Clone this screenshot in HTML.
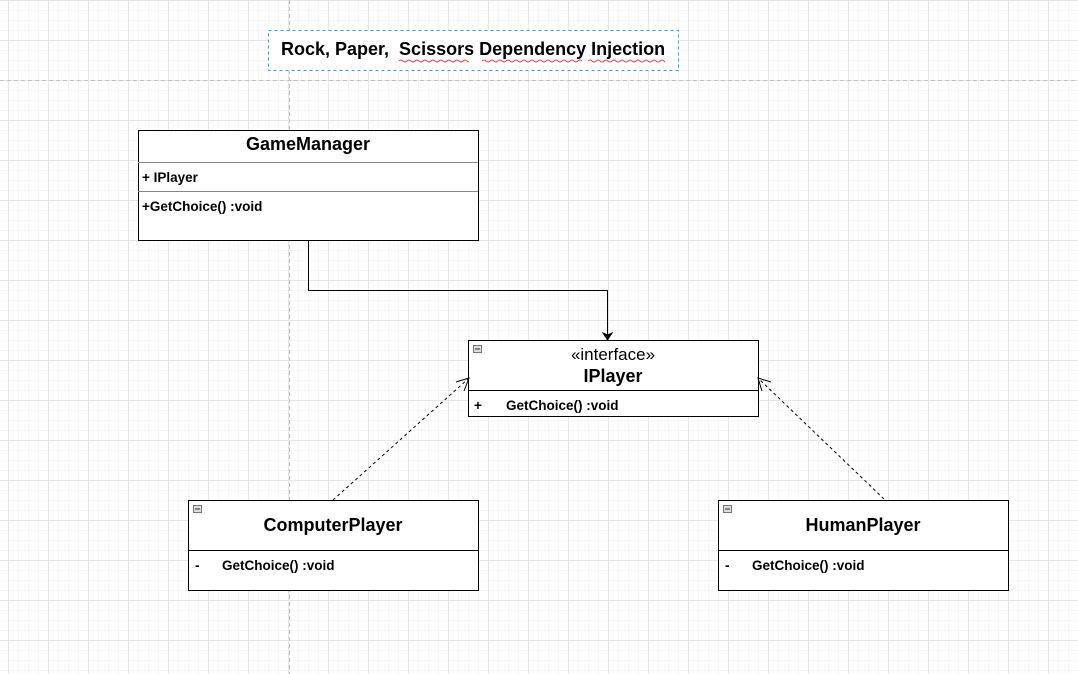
<!DOCTYPE html>
<html><head><style>
body{margin:0;width:1078px;height:674px;overflow:hidden;background:#fff}
svg{display:block}
text{font-family:"Liberation Sans",Arial,sans-serif}
</style></head><body>
<svg width="1078" height="674" xmlns="http://www.w3.org/2000/svg">
<defs>
<pattern id="minor" width="10" height="10" patternUnits="userSpaceOnUse" x="8" y="0">
<path d="M0.5 0V10M0 0.5H10" stroke="#f5f5f5" stroke-width="1" fill="none"/>
</pattern>
<pattern id="major" width="40" height="40" patternUnits="userSpaceOnUse" x="8" y="0">
<path d="M0.5 0V40M0 0.5H40" stroke="#e6e6e6" stroke-width="1" fill="none"/>
</pattern>
<path id="sq" d="M0 0 q2 -2 4 0 t4 0 t4 0 t4 0 t4 0 t4 0 t4 0 t4 0 t4 0 t4 0 t4 0 t4 0 t4 0 t4 0 t4 0 t4 0 t4 0 t4 0 t4 0 t4 0 t4 0 t4 0 t4 0 t4 0 t4 0" stroke="#f04040" fill="none"/>
<clipPath id="c1"><rect x="399" y="55" width="70" height="10"/></clipPath>
<clipPath id="c2"><rect x="482" y="55" width="100" height="10"/></clipPath>
<clipPath id="c3"><rect x="588" y="55" width="77" height="10"/></clipPath>
</defs>
<rect width="1078" height="674" fill="url(#minor)"/>
<rect width="1078" height="674" fill="url(#major)"/>
<line x1="0" y1="80.5" x2="1078" y2="80.5" stroke="#c0c0c0" stroke-dasharray="4,3"/>
<line x1="289.5" y1="0" x2="289.5" y2="674" stroke="#c0c0c0" stroke-dasharray="4,3"/>

<rect x="268.5" y="30.5" width="410" height="40" fill="#fff" stroke="#29a8e0" stroke-dasharray="3,3"/>
<text x="281" y="55" font-size="18" font-weight="bold" xml:space="preserve">Rock, Paper,  Scissors Dependency Injection</text>
<g clip-path="url(#c1)"><use href="#sq" x="399" y="61"/></g>
<g clip-path="url(#c2)"><use href="#sq" x="482" y="61"/></g>
<g clip-path="url(#c3)"><use href="#sq" x="588" y="61"/></g>

<!-- GameManager -->
<rect x="138.5" y="130.5" width="340" height="110" fill="#fff" stroke="#000"/>
<line x1="138" y1="162.5" x2="478" y2="162.5" stroke="#888"/>
<line x1="138" y1="191.5" x2="478" y2="191.5" stroke="#888"/>
<text x="308" y="150" font-size="18" font-weight="bold" text-anchor="middle">GameManager</text>
<text x="142" y="182" font-size="13.5" font-weight="bold">+ IPlayer</text>
<text x="142" y="211" font-size="13.5" font-weight="bold">+GetChoice() :void</text>

<path d="M308.5 240V290.5H607.5V336" stroke="#000" fill="none"/>
<path d="M603 333L607.5 340L612 333L607.5 335Z" fill="#000" stroke="#000"/>

<!-- IPlayer -->
<rect x="468.5" y="340.5" width="290" height="76" fill="#fff" stroke="#000"/>
<line x1="468" y1="390.5" x2="758" y2="390.5" stroke="#000"/>
<rect x="473.5" y="345.5" width="8" height="7" fill="#ddd" stroke="#777"/>
<line x1="475" y1="349" x2="480" y2="349" stroke="#333"/>
<text x="613" y="360" font-size="17" text-anchor="middle">«interface»</text>
<text x="613" y="382" font-size="18" font-weight="bold" text-anchor="middle">IPlayer</text>
<text x="474" y="410" font-size="13.5" font-weight="bold">+</text>
<text x="506" y="410" font-size="13.5" font-weight="bold">GetChoice() :void</text>

<!-- ComputerPlayer -->
<rect x="188.5" y="500.5" width="290" height="90" fill="#fff" stroke="#000"/>
<line x1="188" y1="550.5" x2="478" y2="550.5" stroke="#000"/>
<rect x="193.5" y="505.5" width="8" height="7" fill="#ddd" stroke="#777"/>
<line x1="195" y1="509" x2="200" y2="509" stroke="#333"/>
<text x="333" y="531" font-size="18" font-weight="bold" text-anchor="middle">ComputerPlayer</text>
<text x="195" y="570" font-size="13.5" font-weight="bold">-</text>
<text x="222" y="570" font-size="13.5" font-weight="bold">GetChoice() :void</text>

<!-- HumanPlayer -->
<rect x="718.5" y="500.5" width="290" height="90" fill="#fff" stroke="#000"/>
<line x1="718" y1="550.5" x2="1008" y2="550.5" stroke="#000"/>
<rect x="723.5" y="505.5" width="8" height="7" fill="#ddd" stroke="#777"/>
<line x1="725" y1="509" x2="730" y2="509" stroke="#333"/>
<text x="863" y="531" font-size="18" font-weight="bold" text-anchor="middle">HumanPlayer</text>
<text x="725" y="570" font-size="13.5" font-weight="bold">-</text>
<text x="752" y="570" font-size="13.5" font-weight="bold">GetChoice() :void</text>

<!-- realization -->
<line x1="333" y1="500" x2="468" y2="379" stroke="#000" stroke-dasharray="3,3"/>
<path d="M456 382L469 378L464 391" stroke="#000" fill="none"/>
<line x1="884" y1="499" x2="759" y2="379" stroke="#000" stroke-dasharray="3,3"/>
<path d="M771 382L758 378L762 391" stroke="#000" fill="none"/>
</svg>
</body></html>
